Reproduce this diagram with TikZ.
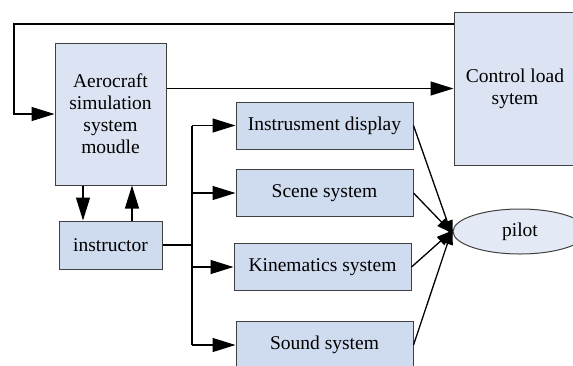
\documentclass[tikz,border=0pt]{standalone}
\usepackage{fontspec}
\setmainfont{Liberation Serif}
\usetikzlibrary{arrows.meta, positioning, shapes.geometric}

\definecolor{lightfill}{HTML}{DCE3F2}
\definecolor{boxfill}{HTML}{CFDBEE}
\definecolor{pilotfill}{HTML}{E4EAF5}
\definecolor{edge}{HTML}{404040}

\begin{document}
\begin{tikzpicture}[
    x=1pt, y=-1pt,
    every node/.style={font=\fontsize{19.5}{22}\selectfont, align=center},
    bigbox/.style={
        draw=edge,
        fill=lightfill,
        line width=1pt,
        inner sep=0pt
    },
    box/.style={
        draw=edge,
        fill=boxfill,
        line width=1pt,
        inner sep=0pt,
        minimum width=177pt,
        minimum height=47pt
    },
    arrow/.style={
        -{Triangle[length=23pt, width=14pt]},
        line width=1.3pt
    },
    smallarrow/.style={
        -{Triangle[length=16pt, width=11pt]},
        line width=1.3pt
    }
]
\useasboundingbox (0,0) rectangle (573,365);

\node[bigbox, minimum width=111pt, minimum height=142pt] (aero) at (110.5,114)
{Aerocraft\\simulation\\system\\moudle};

\node[bigbox, minimum width=122pt, minimum height=153pt] (control) at (515,88.5)
{Control load\\sytem};

\node[box, minimum width=103pt, minimum height=48pt] (instructor) at (110.5,245) {instructor};

\node[box] (instr) at (324.5,125.5) {Instrusment display};
\node[box] (scene) at (324.5,193) {Scene system};
\node[box] (kine) at (322.5,267) {Kinematics system};
\node[box] (sound) at (324.5,345) {Sound system};

\node[ellipse, draw=edge, fill=pilotfill, line width=1pt, inner sep=0pt,
      minimum width=134pt, minimum height=45pt] (pilot) at (520,231.5) {pilot};

% feedback loop over the top
\coordinate (fb) at (14,24);
\draw[arrow] (control.west |- fb) -- (fb) |- (aero.west);

\draw[arrow] (aero.east |- control.west) -- (control.west);

% aero <-> instructor
\draw[arrow] ([xshift=-27.5pt]aero.south) -- ([xshift=-27.5pt]instructor.north);
\draw[arrow] ([xshift=21.5pt]instructor.north) -- ([xshift=21.5pt]aero.south);

% instructor bus
\coordinate (bus) at (192,245);
\draw[line width=1.3pt] (instructor.east) -- (bus);
\draw[line width=2pt] (bus |- instr.west) -- (bus |- sound.west);
\draw[arrow] (bus |- instr.west) -- (instr.west);
\draw[arrow] (bus |- scene.west) -- (scene.west);
\draw[arrow] (bus |- kine.west) -- (kine.west);
\draw[arrow] (bus |- sound.west) -- (sound.west);

% outputs to pilot
\draw[smallarrow] (instr.east) -- ([yshift=-5pt]pilot.west);
\draw[smallarrow] (scene.east) -- ([yshift=-2pt]pilot.west);
\draw[smallarrow] (kine.east) -- ([yshift=1pt]pilot.west);
\draw[smallarrow] (sound.east) -- ([yshift=3pt]pilot.west);

\end{tikzpicture}
\end{document}
